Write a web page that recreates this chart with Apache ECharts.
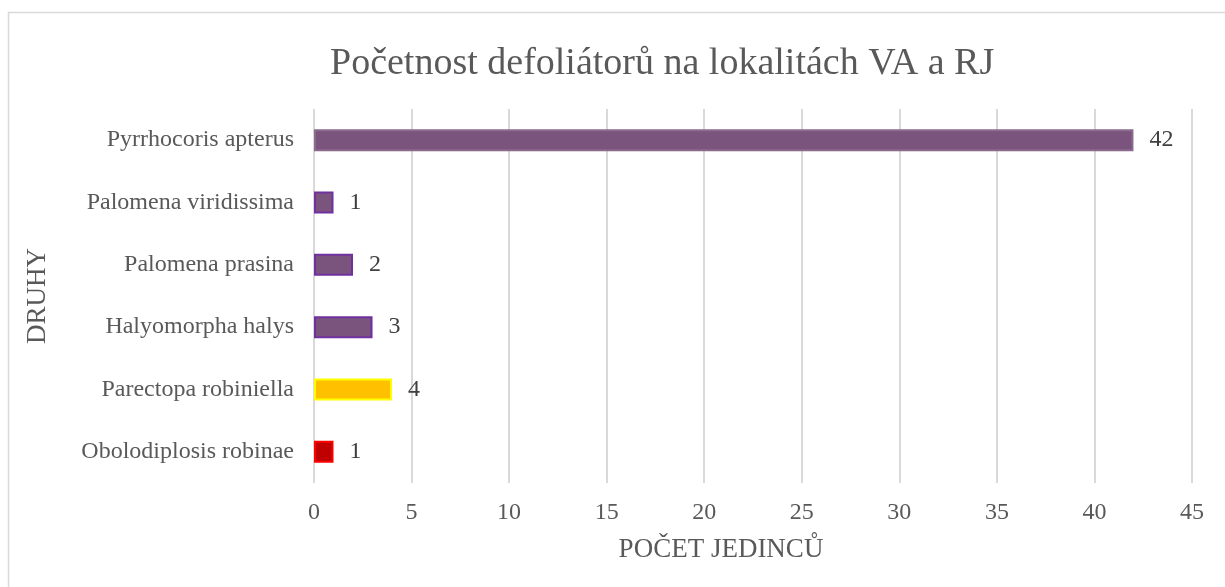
<!DOCTYPE html>
<html>
<head>
<meta charset="utf-8">
<script src="https://cdn.jsdelivr.net/npm/echarts@6/dist/echarts.min.js"></script>
<style>
  html, body { margin: 0; padding: 0; background: #fff; }
  #chart { width: 1225px; height: 587px; }
</style>
</head>
<body>
<div id="chart"></div>
<script>
// data (bottom to top, as the category axis draws it)
const species = ['Obolodiplosis robinae', 'Parectopa robiniella', 'Halyomorpha halys', 'Palomena prasina', 'Palomena viridissima', 'Pyrrhocoris apterus']
const counts = [1, 4, 3, 2, 1, 42]
const fillColors = ['#C00000', '#FFC000', '#7A547C', '#7A547C', '#7A547C', '#7A547C']
const borderColors = ['#FF0000', '#FFFF00', '#7030A0', '#7030A0', '#7030A0', '#8B6A8D']

const font = '"Liberation Serif", "Times New Roman", serif'

const chart = echarts.init(document.getElementById('chart'))

chart.setOption({
    animation: false,
    title: {
        text: 'Početnost defoliátorů na lokalitách VA a RJ',
        left: 325,
        top: 40,
        textStyle: { fontFamily: font, fontSize: 38, fontWeight: 'normal', color: '#595959' }
    },
    graphic: [{
        type: 'rect',
        shape: { x: 8.5, y: 12.5, width: 1240, height: 600 },
        style: { fill: 'none', stroke: '#d9d9d9', lineWidth: 1.5 },
        silent: true
    }],
    grid: { left: 314, right: 33, top: 109, height: 374 },
    xAxis: {
        type: 'value',
        min: 0,
        max: 45,
        interval: 5,
        name: 'POČET JEDINCŮ',
        nameLocation: 'middle',
        nameGap: 53,
        // title sits a little left of the plot centre in the original
        nameTextStyle: { fontFamily: font, fontSize: 27, color: '#595959', padding: [0, 64, 0, 0] },
        axisLine: { show: false },
        axisTick: { show: false },
        axisLabel: { fontFamily: font, fontSize: 24, color: '#595959', margin: 18 },
        splitLine: { lineStyle: { color: '#d9d9d9', width: 2 } }
    },
    yAxis: {
        type: 'category',
        data: species,
        name: 'DRUHY',
        nameLocation: 'middle',
        nameGap: 263,
        nameTextStyle: { fontFamily: font, fontSize: 27, color: '#595959' },
        axisLine: { show: false },
        axisTick: { show: false },
        axisLabel: { fontFamily: font, fontSize: 24, color: '#595959', margin: 20 }
    },
    series: [{
        type: 'bar',
        barWidth: 22,
        data: counts.map((v, i) => ({
            value: v,
            itemStyle: { color: fillColors[i], borderColor: borderColors[i], borderWidth: 2 }
        })),
        label: {
            show: true,
            position: 'right',
            distance: 16,
            fontFamily: font,
            fontSize: 24,
            color: '#404040'
        }
    }]
})
</script>
</body>
</html>
